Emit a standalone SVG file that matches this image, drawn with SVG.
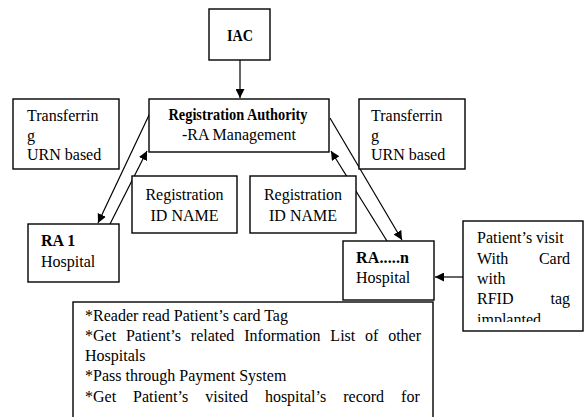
<svg xmlns="http://www.w3.org/2000/svg" width="587" height="417" viewBox="0 0 587 417">
  <style>
    .box { fill: #ffffff; stroke: #000000; stroke-width: 1.4; }
    .t { font-family: "Liberation Serif", "Times New Roman", serif; font-size: 16px; fill: #000000; }
    .b { font-weight: bold; }
    .mid { text-anchor: middle; }
    .end { text-anchor: end; }
    .edge { stroke: #000000; stroke-width: 1.2; fill: none; }
  </style>
  <defs>
    <marker id="arrow" viewBox="0 0 10 10" refX="10" refY="5" markerWidth="9" markerHeight="9" markerUnits="userSpaceOnUse" orient="auto">
      <path d="M0,0 L10,5 L0,10 Z" fill="#000000"/>
    </marker>
    <clipPath id="visitClip">
      <rect x="463" y="220" width="120" height="102"/>
    </clipPath>
  </defs>

  <rect width="587" height="417" fill="#ffffff"/>

  <!-- connectors -->
  <g id="connectors">
    <line class="edge" x1="240" y1="60" x2="240" y2="98" marker-end="url(#arrow)"/>
    <line class="edge" x1="150" y1="113" x2="98" y2="223" marker-end="url(#arrow)"/>
    <line class="edge" x1="110" y1="224" x2="147" y2="151" marker-end="url(#arrow)"/>
    <line class="edge" x1="330" y1="118" x2="402" y2="240" marker-end="url(#arrow)"/>
    <line class="edge" x1="387" y1="241" x2="331" y2="151" marker-end="url(#arrow)"/>
    <line class="edge" x1="463" y1="277" x2="435" y2="277" marker-end="url(#arrow)"/>
  </g>

  <g id="iac">
    <rect class="box" x="209" y="9" width="61" height="51"/>
    <text class="t b mid" x="240" y="41" textLength="26" lengthAdjust="spacingAndGlyphs">IAC</text>
  </g>

  <g id="registration-authority">
    <rect class="box" x="149" y="99" width="180" height="53"/>
    <text class="t b mid" x="238" y="120" textLength="139" lengthAdjust="spacingAndGlyphs">Registration Authority</text>
    <text class="t mid" x="239" y="140" textLength="114" lengthAdjust="spacingAndGlyphs">-RA Management</text>
  </g>

  <g id="transfer-left">
    <rect class="box" x="13" y="99" width="106" height="70"/>
    <text class="t" x="27" y="121">Transferrin</text>
    <text class="t" x="27" y="141">g</text>
    <text class="t" x="27" y="160">URN based</text>
  </g>

  <g id="transfer-right">
    <rect class="box" x="359" y="99" width="106" height="70"/>
    <text class="t" x="371" y="121">Transferrin</text>
    <text class="t" x="371" y="141">g</text>
    <text class="t" x="371" y="160">URN based</text>
  </g>

  <g id="reg-id-left">
    <rect class="box" x="132" y="176" width="105" height="57"/>
    <text class="t mid" x="184.5" y="200">Registration</text>
    <text class="t mid" x="184.5" y="221">ID NAME</text>
  </g>

  <g id="reg-id-right">
    <rect class="box" x="250" y="176" width="106" height="57"/>
    <text class="t mid" x="303" y="200">Registration</text>
    <text class="t mid" x="303" y="221">ID NAME</text>
  </g>

  <g id="ra-1">
    <rect class="box" x="28" y="224" width="91" height="58"/>
    <text class="t b" x="41" y="246">RA 1</text>
    <text class="t" x="41" y="267">Hospital</text>
  </g>

  <g id="ra-n">
    <rect class="box" x="343" y="241" width="91" height="59"/>
    <text class="t b" x="356" y="263" textLength="53" lengthAdjust="spacing">RA.....n</text>
    <text class="t" x="356" y="283">Hospital</text>
  </g>

  <g id="patient-visit">
    <rect class="box" x="463" y="221" width="120" height="110"/>
    <g clip-path="url(#visitClip)">
      <text class="t" x="477" y="243">Patient’s visit</text>
      <text class="t" x="477" y="264">With</text>
      <text class="t end" x="570" y="264">Card</text>
      <text class="t" x="477" y="284">with</text>
      <text class="t" x="477" y="304">RFID</text>
      <text class="t end" x="570" y="304">tag</text>
      <text class="t" x="477" y="325">implanted</text>
    </g>
  </g>

  <g id="process-steps">
    <rect class="box" x="73" y="302" width="360" height="130"/>
    <text class="t" x="85" y="321">*Reader read Patient’s card Tag</text>
    <text class="t" x="85" y="341" word-spacing="5.8">*Get Patient’s related Information List of other</text>
    <text class="t" x="85" y="361">Hospitals</text>
    <text class="t" x="85" y="381">*Pass through Payment System</text>
    <text class="t" x="85" y="402" word-spacing="13">*Get Patient’s visited hospital’s record for</text>
  </g>
</svg>
